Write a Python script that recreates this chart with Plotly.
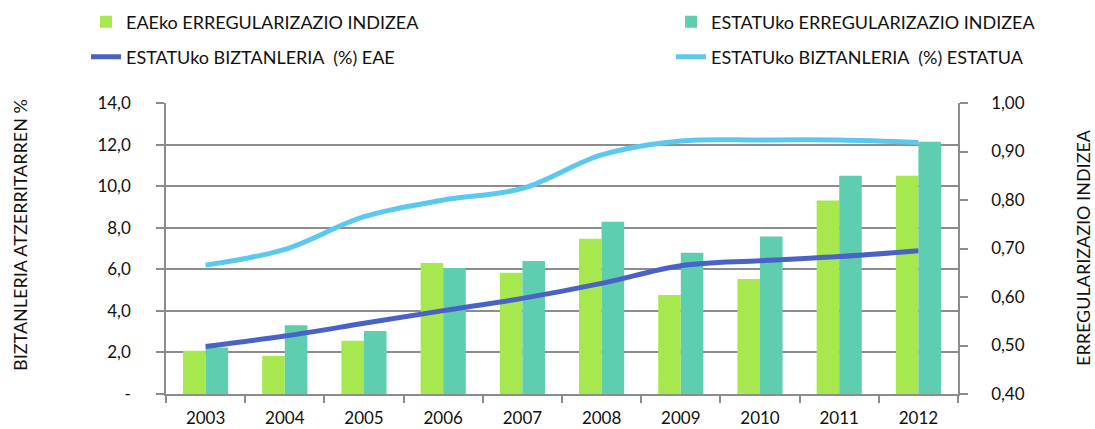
import plotly.graph_objects as go

years = ["2003", "2004", "2005", "2006", "2007", "2008", "2009", "2010", "2011", "2012"]
idx_eae = [0.489, 0.479, 0.510, 0.670, 0.650, 0.720, 0.604, 0.637, 0.799, 0.850]
idx_estatu = [0.496, 0.542, 0.530, 0.660, 0.674, 0.755, 0.691, 0.725, 0.850, 0.920]
pct_eae = [2.29, 2.79, 3.40, 4.01, 4.60, 5.32, 6.17, 6.41, 6.61, 6.89]
pct_estatu = [6.20, 6.96, 8.53, 9.33, 9.89, 11.50, 12.17, 12.22, 12.22, 12.10]

left_vals = [0, 2, 4, 6, 8, 10, 12, 14]
left_text = ["-", "2,0", "4,0", "6,0", "8,0", "10,0", "12,0", "14,0"]
right_vals = [0.4, 0.5, 0.6, 0.7, 0.8, 0.9, 1.0]
right_text = ["0,40", "0,50", "0,60", "0,70", "0,80", "0,90", "1,00"]

FONT = "Lato"
GRID = "#8c8c8c"
TXT = "#111"

fig = go.Figure()
fig.add_trace(go.Bar(x=years, y=idx_eae, name="EAEko ERREGULARIZAZIO INDIZEA",
                     marker=dict(color="#a8e84f", line=dict(width=0)), yaxis="y", legend="legend"))
fig.add_trace(go.Bar(x=years, y=idx_estatu, name="ESTATUko ERREGULARIZAZIO INDIZEA",
                     marker=dict(color="#5ecdb0", line=dict(width=0)), yaxis="y", legend="legend2"))
fig.add_trace(go.Scatter(x=years, y=pct_eae, name="ESTATUko BIZTANLERIA\u00a0 (%) EAE",
                         mode="lines", line=dict(color="#4a62c6", width=5, shape="spline"),
                         yaxis="y2", legend="legend3"))
fig.add_trace(go.Scatter(x=years, y=pct_estatu, name="ESTATUko BIZTANLERIA\u00a0 (%) ESTATUA",
                         mode="lines", line=dict(color="#5bc8f0", width=5, shape="spline"),
                         yaxis="y2", legend="legend4"))

W, H = 1095, 429
L, R, T, B = 166, 137, 103, 35
pw = W - L - R
ph = H - T - B

def px_x(x):
    return (x - L) / pw

def px_y(y):
    return (H - B - y) / ph

def leg(xpx, ypx):
    return dict(orientation="h", font=dict(family=FONT, size=18, color=TXT),
                x=px_x(xpx), y=px_y(ypx), xanchor="left", yanchor="middle",
                bgcolor="rgba(0,0,0,0)", visible=True)

fig.update_layout(
    width=W, height=H,
    showlegend=True,
    margin=dict(l=L, r=R, t=T, b=B, autoexpand=False),
    paper_bgcolor="white", plot_bgcolor="white",
    font=dict(family=FONT, size=16, color=TXT),
    barmode="group", bargap=0.43, bargroupgap=0,
    legend=leg(86, 22),
    legend2=leg(671, 22),
    legend3=leg(86, 57),
    legend4=leg(671, 57),
    xaxis=dict(type="category", showline=True, linecolor=GRID, linewidth=1.5,
               ticks="outside", tickson="boundaries", ticklen=7, tickcolor=GRID, tickwidth=1.5,
               ticklabelstandoff=8,
               tickfont=dict(family=FONT, size=17, color=TXT), showgrid=False),
    yaxis=dict(side="right", range=[0.4, 1.0], tickvals=right_vals, ticktext=right_text,
               showgrid=False, showline=True, linecolor=GRID, linewidth=1.5,
               ticks="outside", ticklen=8, tickcolor=GRID, tickwidth=1.5,
               ticklabelstandoff=20,
               tickfont=dict(family=FONT, size=17, color=TXT), zeroline=False),
    yaxis2=dict(side="left", overlaying="y", range=[0, 14], tickvals=left_vals, ticktext=left_text,
                showgrid=True, gridcolor=GRID, gridwidth=1.5,
                showline=True, linecolor=GRID, linewidth=1.5,
                ticks="outside", ticklen=8, tickcolor=GRID, tickwidth=1.5,
                ticklabelstandoff=22,
                tickfont=dict(family=FONT, size=17, color=TXT), zeroline=False),
    annotations=[
        dict(text="BIZTANLERIA ATZERRITARREN %", textangle=-90, xref="paper", yref="paper",
             x=0, y=px_y(235), xshift=20 - L, xanchor="center", yanchor="middle",
             showarrow=False, font=dict(family=FONT, size=18, color=TXT)),
        dict(text="ERREGULARIZAZIO INDIZEA", textangle=-90, xref="paper", yref="paper",
             x=1, y=px_y(248), xshift=1083 - (W - R), xanchor="center", yanchor="middle",
             showarrow=False, font=dict(family=FONT, size=18, color=TXT)),
    ],
)

fig.write_html("out.html", config={"displayModeBar": False},
               post_script="document.body.style.margin='0';document.body.style.overflow='hidden';")
